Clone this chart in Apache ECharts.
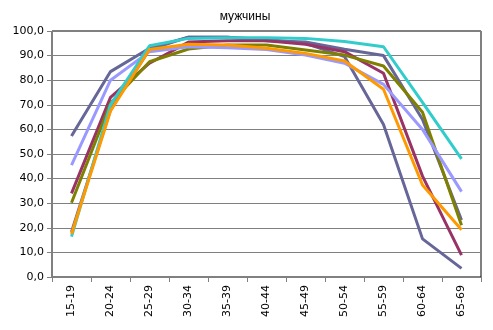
<!DOCTYPE html>
<html><head><meta charset="utf-8">
<script src="https://cdn.jsdelivr.net/npm/echarts@6/dist/echarts.min.js"></script>
<style>html,body{margin:0;padding:0;background:#fff}#c{width:493px;height:330px}</style>
</head><body><div id="c"></div>
<script>
const categories = ['15-19','20-24','25-29','30-34','35-39','40-44','45-49','50-54','55-59','60-64','65-69'];
const yTicks = [0,10,20,30,40,50,60,70,80,90,100];
const slateA  = [57.3, 83.5, 93.0, 97.5, 97.5, 96.5, 95.0, 89.6, 62.0, 15.5, 3.5];
const slateB  = [18.3, 68.0, 92.5, 97.5, 97.5, 96.0, 95.5, 92.6, 90.0, 64.0, 23.2];
const maroon  = [34.0, 73.0, 86.9, 95.5, 96.0, 96.0, 94.6, 91.6, 82.8, 41.0, 8.9];
const olive   = [30.2, 70.6, 87.5, 92.7, 94.3, 94.3, 92.3, 90.2, 85.8, 67.0, 21.0];
const purple  = [45.5, 80.0, 91.6, 93.6, 93.2, 92.5, 90.2, 86.9, 78.3, 60.0, 34.7];
const cyan    = [16.4, 70.0, 94.0, 97.0, 97.3, 97.3, 97.0, 95.7, 93.6, 71.0, 48.0];
const orange  = [17.5, 67.5, 92.5, 94.6, 94.3, 93.0, 90.9, 87.8, 76.3, 37.4, 19.2];
const seriesList = [
  {name:'s1', data:slateA, color:'#666699'},
  {name:'s2', data:slateB, color:'#666699'},
  {name:'s3', data:maroon, color:'#993366'},
  {name:'s4', data:olive,  color:'#808000'},
  {name:'s5', data:purple, color:'#9999FF'},
  {name:'s6', data:cyan,   color:'#33CCCC'},
  {name:'s7', data:orange, color:'#FF9900'}
];
const chart = echarts.init(document.getElementById('c'));
chart.setOption({
  animation:false,
  title:{text:'мужчины', left:240, top:6, textAlign:'center',
    textStyle:{fontFamily:'Liberation Sans, Arial', fontSize:12, fontWeight:'normal', color:'#000'}},
  grid:{left:52, right:12, top:31, bottom:53, show:true, borderColor:'#000', borderWidth:1},
  xAxis:{type:'category', data:categories, boundaryGap:true,
    axisLine:{lineStyle:{color:'#808080'}},
    axisTick:{show:true, length:5, lineStyle:{color:'#808080'}},
    axisLabel:{rotate:90, margin:8, fontFamily:'DejaVu Sans', fontSize:11, color:'#000'},
    splitLine:{show:false}},
  yAxis:{type:'value', min:yTicks[0], max:yTicks[yTicks.length-1], interval:10,
    axisLine:{show:true, lineStyle:{color:'#808080'}},
    axisTick:{show:true, length:5, lineStyle:{color:'#808080'}},
    axisLabel:{margin:8, fontFamily:'DejaVu Sans', fontSize:11, color:'#000',
      formatter:v=>v.toFixed(1).replace('.',',')},
    splitLine:{show:true, lineStyle:{color:'#808080', width:1}}},
  series: seriesList.map(s=>({name:s.name, type:'line', data:s.data, symbol:'none',
    lineStyle:{color:s.color, width:3}, itemStyle:{color:s.color}}))
});
</script></body></html>
